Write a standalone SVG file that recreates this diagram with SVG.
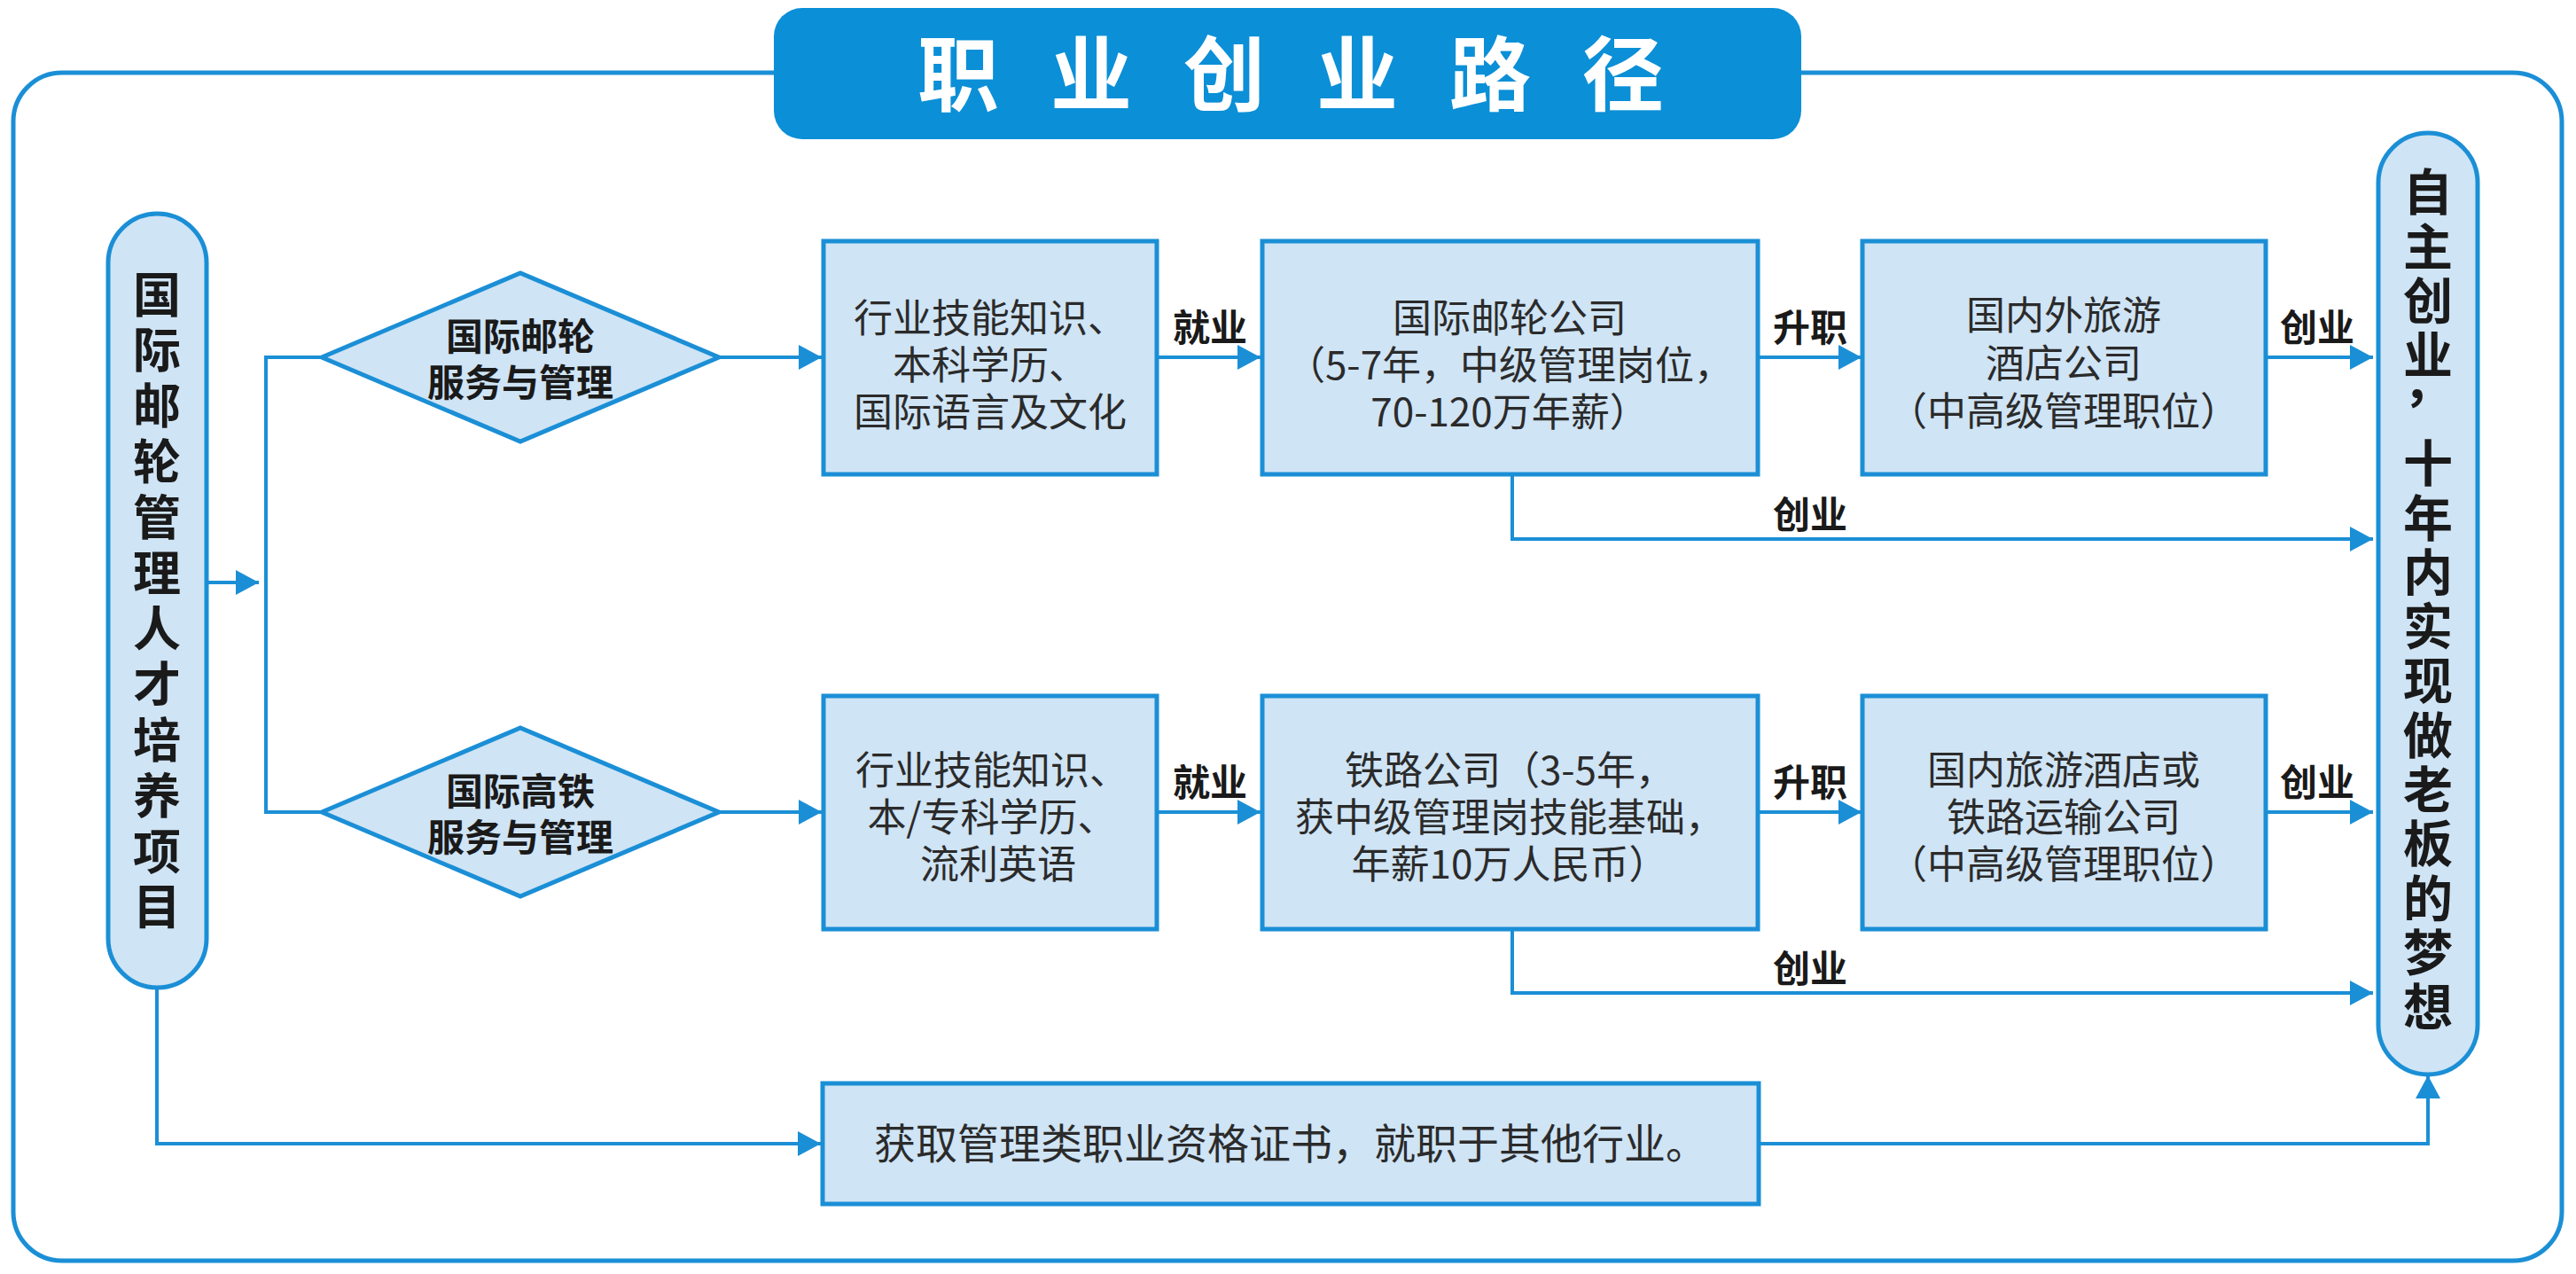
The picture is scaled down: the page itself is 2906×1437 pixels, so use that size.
<svg xmlns="http://www.w3.org/2000/svg" width="2906" height="1437" viewBox="0 0 2906 1437">
<defs>
<style>
.frame{fill:none;stroke:#1b8fd6;stroke-width:5}
.box{fill:#cfe4f5;stroke:#1b8fd6;stroke-width:5}
.pill{fill:#cfe4f5;stroke:#1b8fd6;stroke-width:5}
.con{fill:none;stroke:#1b8fd6;stroke-width:4}
.t{font-family:"Noto Sans CJK SC","Noto Sans",sans-serif;font-size:44px;fill:#2b2b2b;text-anchor:middle}
.b{font-family:"Noto Sans CJK SC","Noto Sans",sans-serif;font-weight:700;fill:#1a1a1a;text-anchor:middle}
.v{font-family:"Noto Sans CJK SC","Noto Sans",sans-serif;font-weight:700;fill:#1a1a1a;writing-mode:vertical-rl;text-orientation:upright}
.lbl{font-size:42px}
.dia{font-size:42px}
.vt{font-size:54px;letter-spacing:8.8px}
.vr{font-size:56px;letter-spacing:5.3px}
</style>
<marker id="arr" viewBox="0 0 26 28" refX="26" refY="14" markerWidth="26" markerHeight="28" markerUnits="userSpaceOnUse" orient="auto">
<path d="M0,0 L26,14 L0,28 z" fill="#1b8fd6"/>
</marker>
</defs>
<rect x="0" y="0" width="2906" height="1437" fill="#ffffff"/>
<rect class="frame" x="15" y="82" width="2875" height="1340" rx="55" ry="55"/>

<g id="title">
<rect x="873" y="9" width="1159" height="148" rx="32" ry="32" fill="#0b8fd7"/>
<text x="1035" y="118" style="font-family:'Noto Sans CJK SC',sans-serif;font-weight:700;font-size:92px;letter-spacing:58px;fill:#ffffff">职业创业路径</text>
</g>

<g id="connectors">
<path class="con" d="M232,657 H292" marker-end="url(#arr)"/>
<path class="con" d="M363,403 H300 V916 H363"/>
<path class="con" d="M811,403 H927" marker-end="url(#arr)"/>
<path class="con" d="M811,916 H927" marker-end="url(#arr)"/>
<path class="con" d="M1305,403 H1422" marker-end="url(#arr)"/>
<path class="con" d="M1983,403 H2100" marker-end="url(#arr)"/>
<path class="con" d="M2556,403 H2677" marker-end="url(#arr)"/>
<path class="con" d="M1706,535 V608 H2677" marker-end="url(#arr)"/>
<path class="con" d="M1305,916 H1422" marker-end="url(#arr)"/>
<path class="con" d="M1983,916 H2100" marker-end="url(#arr)"/>
<path class="con" d="M2556,916 H2677" marker-end="url(#arr)"/>
<path class="con" d="M1706,1048 V1120 H2677" marker-end="url(#arr)"/>
<path class="con" d="M177,1114 V1290 H926" marker-end="url(#arr)"/>
<path class="con" d="M1984,1290 H2739 V1213" marker-end="url(#arr)"/>
<text class="b lbl" x="1365" y="385">就业</text>
<text class="b lbl" x="2042" y="385">升职</text>
<text class="b lbl" x="2614" y="385">创业</text>
<text class="b lbl" x="2042" y="596">创业</text>
<text class="b lbl" x="1365" y="898">就业</text>
<text class="b lbl" x="2042" y="898">升职</text>
<text class="b lbl" x="2614" y="898">创业</text>
<text class="b lbl" x="2042" y="1108">创业</text>
</g>

<g id="start">
<rect class="pill" x="122" y="241" width="111" height="873" rx="55.5" ry="55.5"/>
<text class="v vt" x="177" y="305">国际邮轮管理人才培养项目</text>
</g>

<g id="cruise">
<polygon class="box" points="363,403 587,308 811,403 587,498"/>
<text class="b dia" x="587" y="395">国际邮轮</text>
<text class="b dia" x="587" y="447">服务与管理</text>
</g>

<g id="rail">
<polygon class="box" points="363,916 587,821 811,916 587,1011"/>
<text class="b dia" x="587" y="908">国际高铁</text>
<text class="b dia" x="587" y="960">服务与管理</text>
</g>

<g id="cruise-skills">
<rect class="box" x="929" y="272" width="376" height="263"/>
<text class="t" x="1117" y="375">行业技能知识、</text>
<text class="t" x="1117" y="428">本科学历、</text>
<text class="t" x="1117" y="481">国际语言及文化</text>
</g>

<g id="cruise-company">
<rect class="box" x="1424" y="272" width="559" height="263"/>
<text class="t" x="1703" y="375">国际邮轮公司</text>
<text class="t" x="1703" y="428">（5-7年，中级管理岗位，</text>
<text class="t" x="1703" y="481">70-120万年薪）</text>
</g>

<g id="cruise-hotel">
<rect class="box" x="2101" y="272" width="455" height="263"/>
<text class="t" x="2328" y="372">国内外旅游</text>
<text class="t" x="2328" y="426">酒店公司</text>
<text class="t" x="2328" y="480">（中高级管理职位）</text>
</g>

<g id="rail-skills">
<rect class="box" x="929" y="785" width="376" height="263"/>
<text class="t" x="1119" y="885">行业技能知识、</text>
<text class="t" x="1119" y="938">本/专科学历、</text>
<text class="t" x="1126" y="991">流利英语</text>
</g>

<g id="rail-company">
<rect class="box" x="1424" y="785" width="559" height="263"/>
<text class="t" x="1703" y="885">铁路公司（3-5年，</text>
<text class="t" x="1703" y="938">获中级管理岗技能基础，</text>
<text class="t" x="1703" y="991">年薪10万人民币）</text>
</g>

<g id="rail-transport">
<rect class="box" x="2101" y="785" width="455" height="263"/>
<text class="t" x="2328" y="885">国内旅游酒店或</text>
<text class="t" x="2328" y="938">铁路运输公司</text>
<text class="t" x="2328" y="991">（中高级管理职位）</text>
</g>

<g id="other">
<rect class="box" x="928" y="1222" width="1056" height="136"/>
<text class="t" x="1456" y="1307" style="font-size:47px">获取管理类职业资格证书，就职于其他行业。</text>
</g>

<g id="goal">
<rect class="pill" x="2683" y="150" width="112" height="1062" rx="56" ry="56"/>
<text class="v vr" x="2739" y="188">自主创业</text>
<text class="b" x="2739" y="452" style="font-size:56px">，</text>
<text class="v vr" x="2739" y="494">十年内实现做老板的梦想</text>
</g>
</svg>
